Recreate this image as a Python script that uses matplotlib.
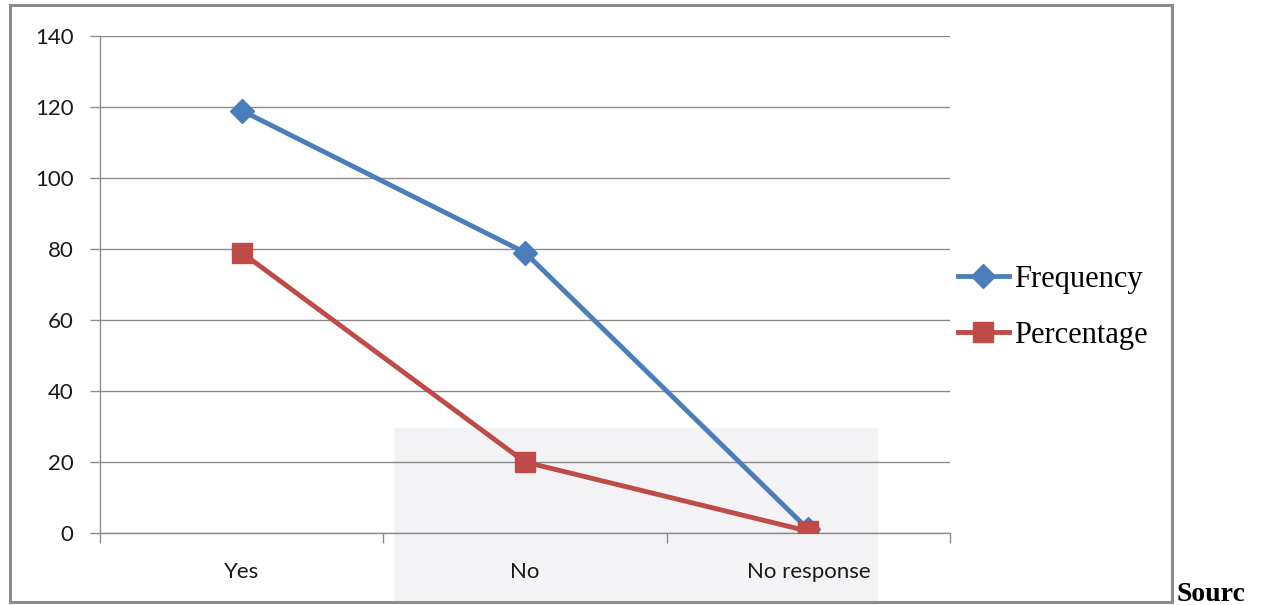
import matplotlib.pyplot as plt
from matplotlib.patches import Rectangle

categories = ["Yes", "No", "No response"]
frequency = [119, 79, 1]
percentage = [79, 20, 0.5]
y_ticks = [0, 20, 40, 60, 80, 100, 120, 140]

fig = plt.figure(figsize=(12.65, 6.05), dpi=100)

# faint watermark block behind the plot
fig.patches.append(Rectangle((395 / 1265, 0), 482 / 1265, 177 / 605,
                             transform=fig.transFigure, color="#f3f3f6",
                             zorder=-1))
# chart frame
fig.patches.append(Rectangle((10 / 1265, 3 / 605), 1162 / 1265, 597 / 605,
                             transform=fig.transFigure, fill=False,
                             edgecolor="#8c8c8c", linewidth=2.2, zorder=-1))

ax = fig.add_axes([100 / 1265, 72 / 605, 850 / 1265, 497 / 605])
ax.set_facecolor("none")

x = list(range(len(categories)))
ax.plot(x, frequency, color="#4A7EBB", linewidth=3.5, marker="D",
        markersize=12, label="Frequency", zorder=3)
ax.plot(x, percentage, color="#BE4B48", linewidth=3.5, marker="s",
        markersize=15, label="Percentage", zorder=3)

ax.set_xlim(-0.5, 2.5)
ax.set_ylim(0, 140)
ax.set_yticks(y_ticks)
ax.yaxis.grid(True, color="#8c8c8c", linewidth=1)
ax.set_axisbelow(True)

ax.set_xticks([-0.5, 0.5, 1.5, 2.5])
ax.set_xticklabels([])
ax.set_xticks(x, minor=True)
ax.set_xticklabels(categories, minor=True)
ax.tick_params(axis="x", which="major", length=7, color="#8c8c8c", width=1)
ax.tick_params(axis="x", which="minor", length=0, pad=21)
ax.tick_params(axis="y", length=7, color="#8c8c8c", width=1, pad=12)

for lab in ax.get_xticklabels(minor=True) + ax.get_yticklabels():
    lab.set_fontfamily("Lato")
    lab.set_fontsize(16)
    lab.set_color("#1a1a1a")

for side in ["top", "right"]:
    ax.spines[side].set_visible(False)
for side in ["left", "bottom"]:
    ax.spines[side].set_color("#8c8c8c")
    ax.spines[side].set_linewidth(1)

fig.legend(loc="center left", bbox_to_anchor=(930 / 1265, 0.492), frameon=False,
           prop={"family": "Liberation Serif", "size": 22}, handlelength=1.7,
           handletextpad=0.15, labelspacing=0.9)

fig.text(1177 / 1265, 4 / 605, "Sourc", family="Liberation Serif",
         weight="bold", fontsize=20, va="baseline", ha="left")

fig.savefig("out.png", dpi=100)
